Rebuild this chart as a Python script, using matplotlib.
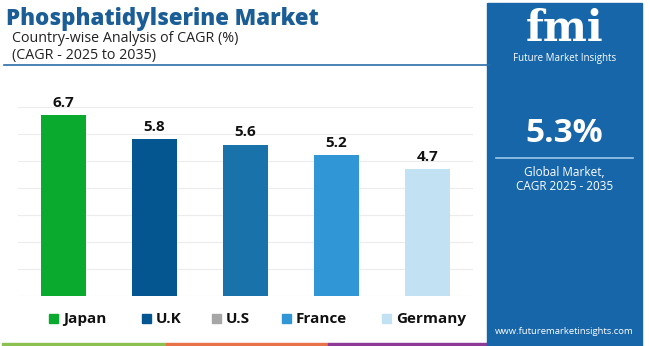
import matplotlib.pyplot as plt
from matplotlib.patches import Rectangle

countries = ['Japan', 'U.K', 'U.S', 'France', 'Germany']
cagr = [6.7, 5.8, 5.6, 5.2, 4.7]
bar_colors = ['#0aaa2e', '#03568f', '#1a72ab', '#3196d6', '#c2e1f3']
legend_colors = ['#0aaa2e', '#03568f', '#a6a6a6', '#3196d6', '#c2e1f3']
global_cagr = '5.3%'

plt.rcParams['font.family'] = ['Open Sans', 'DejaVu Sans']

W, H = 650, 346
fig = plt.figure(figsize=(W / 100, H / 100), dpi=100)
fig.patch.set_facecolor('white')


def fx(px):
    return px / W


def fy(py):
    return 1 - py / H


# chart area
ax = fig.add_axes([fx(18), fy(296), fx(455), (296 - 92) / H])
x = range(len(countries))
ax.bar(x, cagr, width=0.5, color=bar_colors, zorder=3)
for xi, v in zip(x, cagr):
    ax.text(xi, v + 0.2, f'{v}', ha='center', va='bottom',
            fontsize=11, fontweight='bold', color='#111111')
ax.set_xlim(-0.5, len(countries) - 0.5)
ax.set_ylim(0, 7.55)
ax.set_yticks(range(0, 8))
ax.grid(axis='y', color='#ececec', linewidth=0.8, zorder=0)
ax.tick_params(left=False, bottom=False, labelleft=False, labelbottom=False)
for s in ax.spines.values():
    s.set_visible(False)

# header
fig.text(fx(6), fy(19), 'Phosphatidylserine Market', fontsize=16,
         fontweight='heavy', color='#1b5e96', va='center', ha='left')
fig.text(fx(12), fy(38), 'Country-wise Analysis of CAGR (%)', fontsize=10.3,
         color='#222222', va='center', ha='left')
fig.text(fx(12), fy(56), '(CAGR - 2025 to 2035)', fontsize=10.3,
         color='#222222', va='center', ha='left')
fig.add_artist(plt.Line2D([fx(4), fx(490)], [fy(65), fy(65)],
                          color='#2a6ea8', linewidth=1.2))

# legend
leg_sq = [49, 142, 212, 282, 382]
for px, name, c in zip(leg_sq, countries, legend_colors):
    fig.add_artist(Rectangle((fx(px), fy(323)), fx(9), 9 / H,
                             color=c, transform=fig.transFigure))
    fig.text(fx(px + 14), fy(319), name, fontsize=11, fontweight='bold',
             color='#111111', va='center', ha='left')

# bottom strips
for x0, x1, c in [(2, 166, '#8cc152'), (166, 328, '#e8734a'), (328, 490, '#8e3a96')]:
    fig.add_artist(Rectangle((fx(x0), 0), fx(x1 - x0), 3.5 / H,
                             color=c, transform=fig.transFigure))

# right panel
panel_x0, panel_x1 = 487, 642
fig.add_artist(Rectangle((fx(panel_x0), 0), fx(panel_x1 - panel_x0), fy(3),
                         color='#1666a9', transform=fig.transFigure))
cx = fx((panel_x0 + panel_x1) / 2)
fig.text(cx, fy(29), 'fmi', fontsize=30, fontweight='bold', color='white',
         family=['DejaVu Serif'], ha='center', va='center')
fig.text(cx, fy(59), 'Future Market Insights', fontsize=7, color='white',
         ha='center', va='center')
fig.text(cx, fy(134), global_cagr, fontsize=24, fontweight='bold', color='white',
         ha='center', va='center')
fig.add_artist(plt.Line2D([fx(496), fx(633)], [fy(158), fy(158)],
                          color='#9cc8ea', linewidth=1.2))
fig.text(cx, fy(173), 'Global Market,', fontsize=8.5, color='white',
         ha='center', va='center')
fig.text(cx, fy(187), 'CAGR 2025 - 2035', fontsize=8.5, color='white',
         ha='center', va='center')
fig.text(cx, fy(331), 'www.futuremarketinsights.com', fontsize=6.8,
         color='white', ha='center', va='center')

fig.savefig('out.png', dpi=100, facecolor='white')
